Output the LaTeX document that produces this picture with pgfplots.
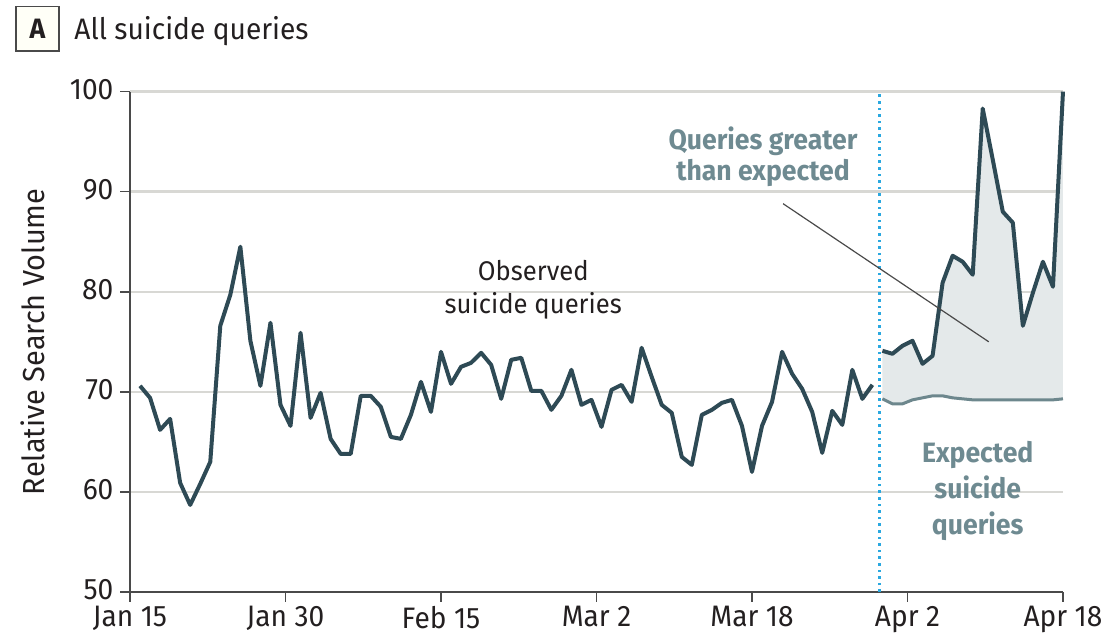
\documentclass[border=0pt]{standalone}
\usepackage{fontspec}
\setmainfont{Fira Sans}[FakeStretch=0.95]
\usepackage{pgfplots}
\pgfplotsset{compat=1.18}
\usepgfplotslibrary{fillbetween}
\definecolor{obs}{HTML}{2E4A55}
\definecolor{expc}{HTML}{6D878D}
\definecolor{fillc}{HTML}{E4E9EA}
\definecolor{annot}{HTML}{6E8A91}
\definecolor{gridc}{HTML}{D8D8D4}
\definecolor{axc}{HTML}{4A4A4A}
\definecolor{dotblue}{HTML}{2AA8E0}
\definecolor{txt}{HTML}{231F20}
\begin{document}
\begin{tikzpicture}
\begin{axis}[name=ax, scale only axis, width=466.5pt, height=250.2pt,
  xmin=0, xmax=93, ymin=50, ymax=100,
  axis x line*=bottom, axis y line*=left,
  axis line style={axc, line width=0.75pt},
  xtick={0,15.5,31,46.5,62,77.5,93},
  xticklabels={Jan 15, Jan 30, Feb 15, Mar 2, Mar 18, Apr 2, Apr 18},
  ytick={50,60,70,80,90,100}, yticklabels={50,60,70,80,90,100},
  tick align=outside, major tick length=4.75pt,
  tick style={axc, line width=0.75pt},
  ymajorgrids, grid style={gridc, line width=1.2pt},
  ticklabel style={font=\fontsize{14.8}{17}\selectfont, text=txt},
  xticklabel style={yshift=-0.3pt, inner sep=2pt},
  yticklabel style={yshift=1pt},
  clip=false]
\addplot[name path=obs2, draw=none, forget plot] coordinates {
(75,74.1)(76,73.8)(77,74.6)(78,75.1)(79,72.8)(80,73.6)(81,80.9)(82,83.6)(83,83.0)(84,81.7)
(85,98.3)(86,93.2)(87,88.0)(88,86.9)(89,76.6)(90,79.9)(91,83.0)(92,80.5)(93,100)};
\addplot[name path=exp, draw=none, forget plot] coordinates {
(75,69.3)(76,68.8)(77,68.8)(78,69.2)(79,69.4)(80,69.6)(81,69.6)(82,69.4)(83,69.3)(84,69.2)
(85,69.2)(86,69.2)(87,69.2)(88,69.2)(89,69.2)(90,69.2)(91,69.2)(92,69.2)(93,69.3)};
\addplot[fillc, forget plot] fill between[of=obs2 and exp];
\addplot[expc, line width=1.5pt, line join=round] coordinates {
(75,69.3)(76,68.8)(77,68.8)(78,69.2)(79,69.4)(80,69.6)(81,69.6)(82,69.4)(83,69.3)(84,69.2)
(85,69.2)(86,69.2)(87,69.2)(88,69.2)(89,69.2)(90,69.2)(91,69.2)(92,69.2)(93,69.3)};
\addplot[obs, line width=2pt, line join=round] coordinates {
(1,70.6)(2,69.4)(3,66.2)(4,67.3)(5,60.9)(6,58.7)(7,60.8)(8,63.0)(9,76.6)(10,79.7)
(11,84.5)(12,75.1)(13,70.6)(14,76.9)(15,68.7)(16,66.6)(17,75.9)(18,67.4)(19,69.9)(20,65.3)
(21,63.8)(22,63.8)(23,69.6)(24,69.6)(25,68.5)(26,65.5)(27,65.3)(28,67.7)(29,71.0)(30,68.0)
(31,74.0)(32,70.8)(33,72.5)(34,72.9)(35,73.9)(36,72.7)(37,69.3)(38,73.2)(39,73.4)(40,70.1)
(41,70.1)(42,68.2)(43,69.6)(44,72.2)(45,68.7)(46,69.2)(47,66.5)(48,70.2)(49,70.7)(50,69.0)
(51,74.4)(52,71.5)(53,68.7)(54,67.9)(55,63.5)(56,62.7)(57,67.7)(58,68.2)(59,68.9)(60,69.2)
(61,66.6)(62,62.0)(63,66.6)(64,69.0)(65,74.0)(66,71.8)(67,70.3)(68,68.0)(69,63.9)(70,68.1)
(71,66.7)(72,72.2)(73,69.3)(74,70.7)};
\addplot[obs, line width=2pt, line join=round] coordinates {
(75,74.1)(76,73.8)(77,74.6)(78,75.1)(79,72.8)(80,73.6)(81,80.9)(82,83.6)(83,83.0)(84,81.7)
(85,98.3)(86,93.2)(87,88.0)(88,86.9)(89,76.6)(90,79.9)(91,83.0)(92,80.5)(93,100)};
\addplot[dotblue, dotted, line width=1.3pt] coordinates {(74.7,50)(74.7,100)};
\draw[axc, line width=0.6pt] (axis cs:65.1,88.8) -- (axis cs:85.6,75.0);
\node[font=\fontsize{14}{15.6}\selectfont\bfseries, text=annot, align=center] at (axis cs:63.1,93.5) {Queries greater\\than expected};
\node[font=\fontsize{13.5}{16.5}\selectfont, text=txt, align=center] at (axis cs:40.2,80.2) {Observed\\suicide queries};
\node[font=\fontsize{14}{18}\selectfont\bfseries, text=annot, align=center] at (axis cs:84.5,60.1) {Expected\\suicide\\queries};
\end{axis}
\node[draw=axc, fill=white!97!yellow, line width=0.6pt, minimum width=21.5pt, minimum height=22pt, inner sep=0pt, font=\fontsize{14}{17}\selectfont\bfseries, text=txt]
  at ([xshift=-46.25pt, yshift=31.35pt]ax.north west) {A};
\node[anchor=base west, inner sep=0pt, font=\fontsize{14.8}{17}\selectfont, text=txt]
  at ([xshift=-28pt, yshift=26.1pt]ax.north west) {All suicide queries};
\node[rotate=90, inner sep=0pt, font=\fontsize{15.2}{17}\selectfont, text=txt]
  at ([xshift=-48.5pt]ax.west) {Relative Search Volume};
\pgfresetboundingbox
\path[use as bounding box] ([xshift=-65pt, yshift=-23pt]ax.south west) rectangle ++(556pt,319pt);
\end{tikzpicture}
\end{document}
